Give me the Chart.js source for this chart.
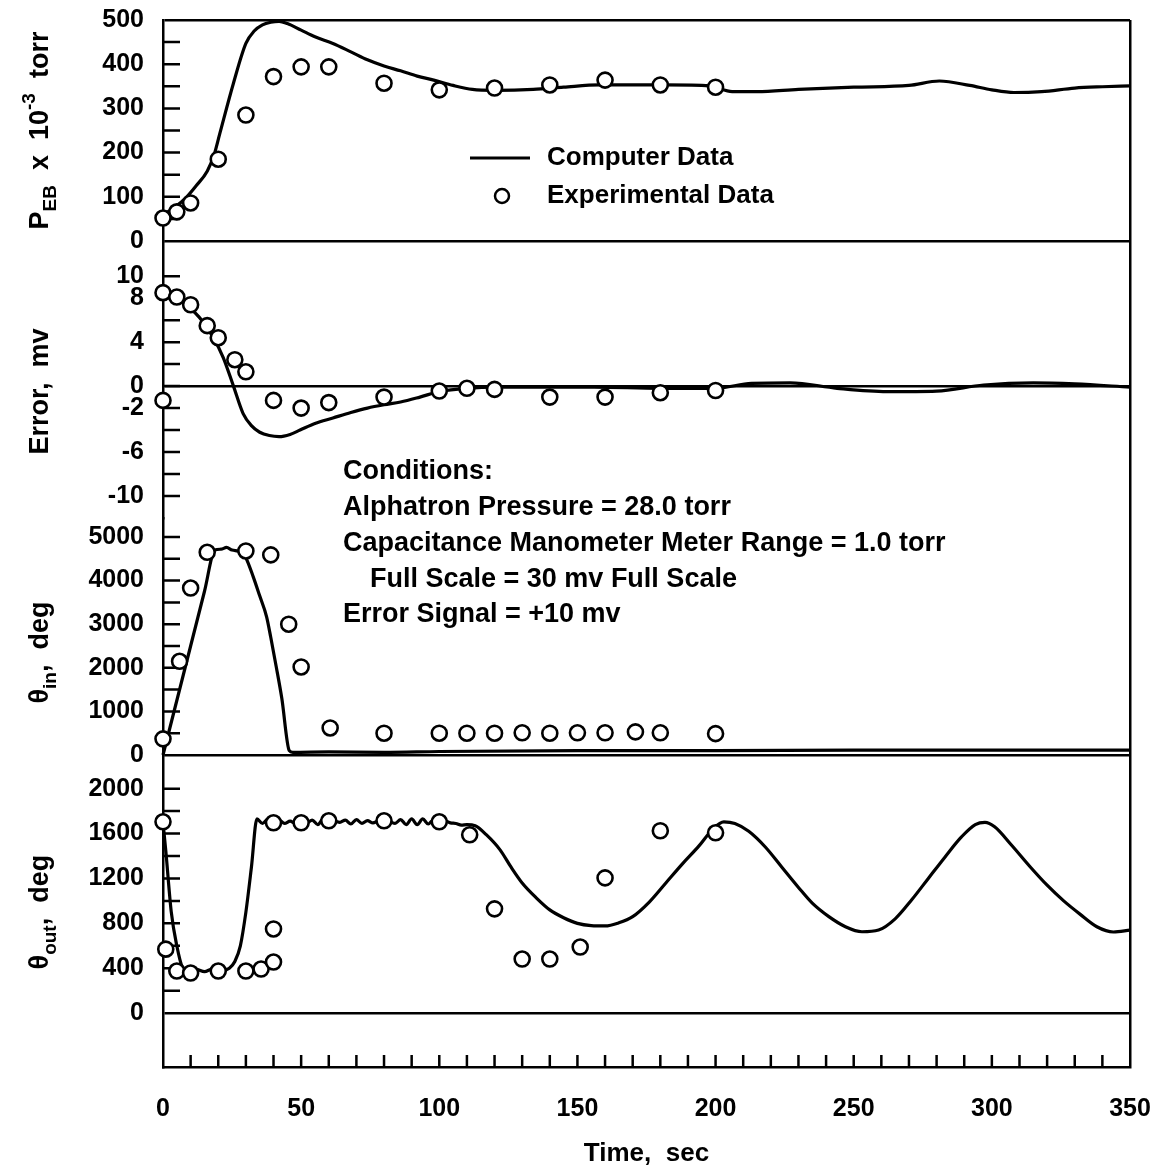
<!DOCTYPE html>
<html>
<head>
<meta charset="utf-8">
<script src="https://cdn.jsdelivr.net/npm/chart.js@4.4.1/dist/chart.umd.min.js"></script>
<style>
  html, body { margin: 0; padding: 0; background: #fff; }
  #wrap { width: 1174px; height: 1175px; position: relative; }
</style>
</head>
<body>
<div id="wrap"><canvas id="chart"></canvas></div>
<script>
// time axis (sec)
const timeTicks = [0, 50, 100, 150, 200, 250, 300, 350];

// P_EB x 10^-3 torr
const pebTicks = [0, 100, 200, 300, 400, 500];
const pebCompT = [0, 4, 8.6, 12, 16, 18.5, 20.6, 25.5, 30, 33, 36, 39, 42, 45, 50, 55, 61.5, 68, 74, 80, 86, 92, 98, 105, 112, 120, 134, 145, 158, 170, 182, 198, 206, 215, 230, 250, 270, 281, 292, 300, 308, 318, 330, 340, 350];
const pebCompV = [60, 75, 100, 125, 158, 195, 244, 357, 447, 475, 489, 495, 497, 492, 477, 462, 447, 428, 410, 396, 385, 373, 364, 352, 343, 341, 343, 348, 353, 353, 353, 351, 338, 338, 343, 348, 352, 362, 352, 342, 336, 338, 346, 349, 351];
const pebExpT = [0, 5, 10, 20, 30, 40, 50, 60, 80, 100, 120, 140, 160, 180, 200];
const pebExpV = [52, 66, 86, 185, 285, 372, 394, 394, 357, 342, 346, 353, 364, 353, 348];

// Error, mv
const errTicks = [10, 8, 4, 0, -2, -6, -10];
const errCompT = [0, 6, 13, 18, 21.8, 25.5, 29, 32, 35, 38.5, 42, 46, 49.6, 55, 61.5, 68, 74, 80, 86, 93, 100, 110, 121, 140, 156, 180, 200, 213, 227, 244, 262, 280, 297, 315, 330, 350];
const errCompV = [8.5, 7.8, 6.3, 4.5, 2.6, 0, -2.5, -3.6, -4.2, -4.5, -4.6, -4.4, -4.0, -3.4, -2.9, -2.4, -2.0, -1.7, -1.45, -1.0, -0.5, -0.2, -0.1, -0.1, -0.1, -0.2, -0.2, 0.25, 0.3, -0.2, -0.5, -0.45, 0.1, 0.3, 0.2, -0.1];
const errExpT = [0, 5, 10, 16, 20, 26, 30, 0, 40, 50, 60, 80, 100, 110, 120, 140, 160, 180, 200];
const errExpV = [8.5, 8.1, 7.4, 5.5, 4.4, 2.4, 1.3, -1.3, -1.3, -2.0, -1.5, -1.0, -0.45, -0.2, -0.3, -1.0, -1.0, -0.6, -0.4];

// theta in, deg
const thInTicks = [0, 1000, 2000, 3000, 4000, 5000];
const thInCompT = [0, 5, 10, 15, 18.8, 21, 23, 25, 28, 30, 32.7, 35, 37.5, 39, 41, 43, 45.7, 47, 60, 80, 100, 150, 200, 250, 300, 350];
const thInCompV = [0, 1250, 2500, 3750, 4700, 4720, 4760, 4700, 4660, 4520, 4080, 3650, 3170, 2700, 2020, 1300, 100, 60, 70, 60, 80, 100, 100, 110, 110, 110];
const thInExpT = [0, 6, 10, 16, 30, 39, 45.5, 50, 60.5, 80, 100, 110, 120, 130, 140, 150, 160, 171, 180, 200];
const thInExpV = [370, 2150, 3830, 4650, 4680, 4590, 3000, 2020, 620, 500, 500, 500, 500, 510, 500, 510, 510, 530, 510, 490];

// theta out, deg
const thOutTicks = [0, 400, 800, 1200, 1600, 2000];
const thOutCompT = [0, 1, 3, 5, 7, 9, 12, 15, 18, 21, 24, 26, 28, 30, 32, 34, 36, 38, 40, 42, 44, 46, 48, 50, 52, 54, 56, 58, 60, 62, 64, 66, 68, 70, 72, 74, 76, 78, 80, 82, 84, 86, 88, 90, 92, 94, 96, 98, 100, 102, 104, 106, 108, 110, 113, 117, 122, 126, 130, 135, 140, 145, 150, 155, 160, 165, 170, 176, 182, 188, 194, 199, 203, 207, 212, 218, 224, 230, 235, 241, 247, 253, 259, 265, 271, 277, 283, 289, 294, 297.5, 301, 307, 314, 320, 326, 332, 338, 344, 350];
const thOutCompV = [1700, 1450, 900, 600, 410, 380, 390, 370, 395, 375, 400, 460, 600, 900, 1300, 1730, 1690, 1730, 1680, 1720, 1690, 1710, 1690, 1705, 1695, 1720, 1680, 1730, 1690, 1710, 1700, 1720, 1685, 1725, 1690, 1715, 1695, 1710, 1700, 1705, 1690, 1725, 1680, 1730, 1680, 1730, 1685, 1725, 1690, 1715, 1695, 1690, 1675, 1680, 1670, 1590, 1455, 1300, 1160, 1030, 920, 850, 800, 780, 777, 805, 860, 990, 1160, 1330, 1490, 1640, 1705, 1690, 1620, 1480, 1300, 1120, 980, 860, 770, 725, 740, 840, 1010, 1200, 1390, 1570, 1680, 1700, 1660, 1500, 1300, 1140, 1000, 880, 770, 723, 740];
const thOutExpT = [0, 1, 5, 10, 20, 30, 35.5, 40, 40, 40, 50, 60, 80, 100, 111, 120, 130, 140, 151, 160, 180, 200];
const thOutExpV = [1705, 570, 375, 357, 375, 375, 393, 455, 750, 1696, 1696, 1714, 1714, 1705, 1589, 929, 482, 482, 589, 1205, 1625, 1607];

const fam = "'Liberation Sans', Arial, sans-serif";
const tickFont = { family: fam, size: 25, weight: 'bold' };

// small inward tick marks (axis decoration)
const minorTicks = {
  x: { from: 10, to: 340, step: 10, len: 12 },
  yPeb: { from: 50, to: 450, step: 50, len: 17 },
  yErr: { from: -10, to: 10, step: 2, len: 17 },
  yIn: { from: 500, to: 5000, step: 500, len: 17 },
  yOut: { from: 200, to: 2000, step: 200, len: 17 }
};

const axisTitles = {
  yPeb: { at: 250, parts: [['P'], ['EB', 'sub'], ['  x  10'], ['-3', 'sup'], ['  torr']] },
  yErr: { at: -0.5, parts: [['Error,  mv']] },
  yIn: { at: 2350, parts: [['θ'], ['in', 'sub'], [',  deg']] },
  yOut: { at: 900, parts: [['θ'], ['out', 'sub'], [',  deg']] }
};

const conditions = [
  ['Conditions:', 0],
  ['Alphatron Pressure = 28.0 torr', 0],
  ['Capacitance Manometer Meter Range = 1.0 torr', 0],
  ['Full Scale = 30 mv Full Scale', 27],
  ['Error Signal = +10 mv', 0]
];

const pts = (ts, vs) => ts.map((t, i) => ({ x: t, y: vs[i] }));

function lineSet(ts, vs, axis) {
  return {
    data: pts(ts, vs), yAxisID: axis,
    borderColor: '#000', borderWidth: 3.2, pointRadius: 0,
    cubicInterpolationMode: 'monotone', fill: false, order: 2, clip: false
  };
}
function dotSet(ts, vs, axis) {
  return {
    data: pts(ts, vs), yAxisID: axis, showLine: false,
    pointRadius: 7.5, pointBorderWidth: 2.6,
    pointBackgroundColor: '#fff', pointBorderColor: '#000',
    borderColor: '#000', order: 1, clip: false
  };
}

function yScale(weight, min, max, labels, lines) {
  return {
    type: 'linear', position: 'left', stack: 'panels', stackWeight: weight,
    min: min, max: max,
    afterBuildTicks: s => { s.ticks = labels.slice().sort((a, b) => a - b).map(v => ({ value: v })); },
    afterFit: s => { s.width = 163; s.paddingTop = 0; s.paddingBottom = 0; },
    ticks: { font: tickFont, color: '#000', padding: 19, autoSkip: false, callback: v => String(v) },
    grid: {
      drawTicks: false, lineWidth: 2.5,
      color: c => (c.tick && lines.includes(c.tick.value)) ? '#000' : 'rgba(0,0,0,0)'
    },
    border: { color: '#000', width: 2.5 }
  };
}

function drawRich(ctx, parts, x, y) {
  ctx.save();
  ctx.translate(x, y);
  ctx.rotate(-Math.PI / 2);
  ctx.textBaseline = 'alphabetic';
  ctx.textAlign = 'left';
  const fonts = parts.map(p => p[1] ? 'bold 19px ' + fam : 'bold 27px ' + fam);
  let w = 0;
  parts.forEach((p, i) => { ctx.font = fonts[i]; w += ctx.measureText(p[0]).width; });
  let cx = -w / 2;
  parts.forEach((p, i) => {
    ctx.font = fonts[i];
    const dy = p[1] === 'sub' ? 8 : (p[1] === 'sup' ? -13 : 0);
    ctx.fillText(p[0], cx, dy);
    cx += ctx.measureText(p[0]).width;
  });
  ctx.restore();
}

const inkPlugin = {
  id: 'ink',
  beforeDatasetsDraw(chart) {
    const ctx = chart.ctx, a = chart.chartArea;
    ctx.save();
    ctx.strokeStyle = '#000';
    ctx.lineWidth = 2.5;
    ctx.beginPath();
    Object.keys(minorTicks).forEach(id => {
      const s = chart.scales[id], m = minorTicks[id];
      for (let v = m.from; v <= m.to + 1e-9; v += m.step) {
        const p = s.getPixelForValue(v);
        if (s.isHorizontal()) { ctx.moveTo(p, a.bottom); ctx.lineTo(p, a.bottom - m.len); }
        else { ctx.moveTo(a.left, p); ctx.lineTo(a.left + m.len, p); }
      }
    });
    ctx.stroke();
    ctx.restore();
  },
  afterDraw(chart) {
    const ctx = chart.ctx;
    ctx.save();
    ctx.fillStyle = '#000';
    ctx.strokeStyle = '#000';

    // rotated axis titles
    Object.keys(axisTitles).forEach(id => {
      const t = axisTitles[id];
      drawRich(ctx, t.parts, 48, chart.scales[id].getPixelForValue(t.at));
    });

    // legend
    ctx.font = 'bold 26px ' + fam;
    ctx.textBaseline = 'middle';
    ctx.textAlign = 'left';
    ctx.lineWidth = 3;
    ctx.beginPath(); ctx.moveTo(470, 158); ctx.lineTo(530, 158); ctx.stroke();
    ctx.lineWidth = 2.5;
    ctx.beginPath(); ctx.arc(502, 196, 7, 0, 2 * Math.PI); ctx.stroke();
    ctx.fillText('Computer Data', 547, 158);
    ctx.fillText('Experimental Data', 547, 196);

    // conditions block
    ctx.font = 'bold 27px ' + fam;
    conditions.forEach((c, i) => ctx.fillText(c[0], 343 + c[1], 472 + i * 35.7));
    ctx.restore();
  }
};

new Chart(document.getElementById('chart'), {
  type: 'line',
  data: {
    datasets: [
      lineSet(pebCompT, pebCompV, 'yPeb'),
      dotSet(pebExpT, pebExpV, 'yPeb'),
      lineSet(errCompT, errCompV, 'yErr'),
      dotSet(errExpT, errExpV, 'yErr'),
      lineSet(thInCompT, thInCompV, 'yIn'),
      dotSet(thInExpT, thInExpV, 'yIn'),
      lineSet(thOutCompT, thOutCompV, 'yOut'),
      dotSet(thOutExpT, thOutExpV, 'yOut')
    ]
  },
  options: {
    responsive: true,
    maintainAspectRatio: false,
    animation: false,
    events: [],
    layout: { padding: { top: 20, right: 44, bottom: 0, left: 0 } },
    plugins: { legend: { display: false }, tooltip: { enabled: false } },
    scales: {
      x: {
        type: 'linear', position: 'bottom', min: 0, max: 350,
        afterBuildTicks: s => { s.ticks = timeTicks.map(v => ({ value: v })); },
        afterFit: s => { s.height = 108; s.paddingLeft = 0; s.paddingRight = 0; },
        ticks: { font: tickFont, color: '#000', padding: 27, maxRotation: 0, autoSkip: false, callback: v => String(v) },
        grid: {
          drawTicks: false, lineWidth: 2.5,
          color: c => (c.tick && c.tick.value === 350) ? '#000' : 'rgba(0,0,0,0)'
        },
        border: { color: '#000', width: 2.5 },
        title: { display: true, text: 'Time,  sec', color: '#000', font: { family: fam, size: 26, weight: 'bold' }, padding: { top: 0, bottom: 6 } }
      },
      // stacked panels, listed bottom to top
      yOut: yScale(312, -480, 2300, thOutTicks, [0]),
      yIn: yScale(237, 0, 5436, thInTicks, [0]),
      yErr: yScale(277, -12, 13.2, errTicks, [0]),
      yPeb: yScale(221, 0, 500, pebTicks, [0, 500])
    }
  },
  plugins: [inkPlugin]
});
</script>
</body>
</html>
